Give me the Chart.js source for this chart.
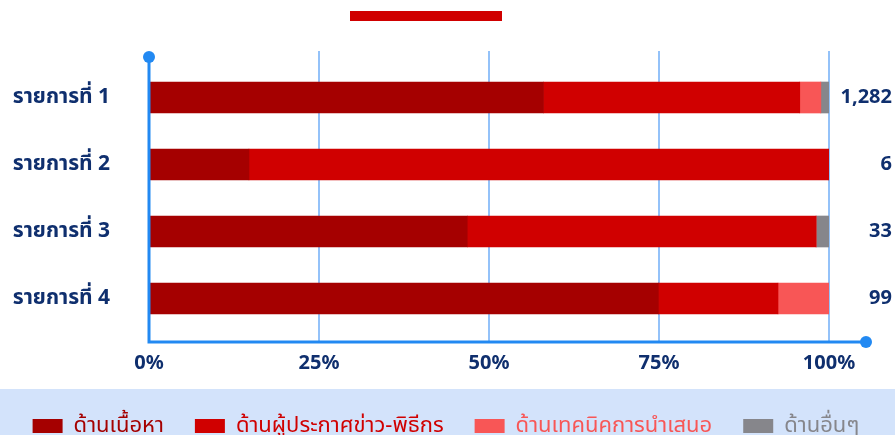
<!DOCTYPE html>
<html>
<head>
<meta charset="utf-8">
<script src="https://cdn.jsdelivr.net/npm/chart.js@4.4.1/dist/chart.umd.min.js"></script>
<style>
  html, body { margin: 0; padding: 0; background: #ffffff; overflow: hidden; }
  #wrap { position: relative; width: 895px; height: 455px; }
  #legendBg { position: absolute; left: 0; top: 389px; width: 895px; height: 66px; background: #d3e3fb; z-index: 0; }
  #titleBar { position: absolute; left: 350px; top: 11px; width: 152px; height: 10px; background: #d00000; z-index: 0; }
  #chartBox { position: absolute; left: 0; top: 0; width: 895px; height: 455px; z-index: 1; }
</style>
</head>
<body>
<div id="wrap">
  <div id="legendBg"></div>
  <div id="titleBar"></div>
  <div id="chartBox"><canvas id="c"></canvas></div>
</div>
<script>
const categories = ['รายการที่ 1', 'รายการที่ 2', 'รายการที่ 3', 'รายการที่ 4'];
const totals = ['1,282', '6', '33', '99'];
const seriesNames = ['ด้านเนื้อหา', 'ด้านผู้ประกาศข่าว-พิธีกร', 'ด้านเทคนิคการนำเสนอ', 'ด้านอื่นๆ'];
const contentPct = [58.0, 14.7, 46.8, 74.9];
const anchorPct = [37.7, 85.3, 51.3, 17.6];
const techniquePct = [3.1, 0, 0, 7.5];
const otherPct = [1.2, 0, 1.9, 0];
const xTicks = [0, 25, 50, 75, 100];

const seriesColors = ['#a50000', '#d00000', '#f85656', '#86868b'];
const navy = '#0f2f6e';
const axisBlue = '#2289f2';
const gridBlue = '#94c2f9';
const FONT = "'Noto Sans', 'Noto Sans Thai', sans-serif";

const seriesValues = [contentPct, anchorPct, techniquePct, otherPct];

const decorPlugin = {
  id: 'decor',
  beforeDatasetsDraw(chart) {
    const ctx = chart.ctx;
    const xs = chart.scales.x;
    const area = chart.chartArea;
    ctx.save();
    ctx.strokeStyle = gridBlue;
    ctx.lineWidth = 2;
    xTicks.slice(1).forEach(v => {
      const px = Math.round(xs.getPixelForValue(v));
      ctx.beginPath();
      ctx.moveTo(px, area.top - 13);
      ctx.lineTo(px, area.bottom + 10);
      ctx.stroke();
    });
    ctx.restore();
  },
  afterDatasetsDraw(chart) {
    const ctx = chart.ctx;
    const xs = chart.scales.x;
    const area = chart.chartArea;
    const x0 = xs.getPixelForValue(0);
    const yTop = area.top - 7;
    const yBot = area.bottom + 10;
    const xEnd = xs.getPixelForValue(100) + 37;
    ctx.save();
    ctx.strokeStyle = axisBlue;
    ctx.fillStyle = axisBlue;
    ctx.lineWidth = 3;
    ctx.beginPath();
    ctx.moveTo(x0, yTop);
    ctx.lineTo(x0, yBot);
    ctx.lineTo(xEnd, yBot);
    ctx.stroke();
    ctx.beginPath();
    ctx.arc(x0, yTop, 6, 0, Math.PI * 2);
    ctx.fill();
    ctx.beginPath();
    ctx.arc(xEnd, yBot, 6, 0, Math.PI * 2);
    ctx.fill();
    ctx.restore();
  }
};

new Chart(document.getElementById('c'), {
  type: 'bar',
  data: {
    labels: categories,
    datasets: seriesNames.map((name, i) => ({
      label: name,
      data: seriesValues[i],
      backgroundColor: seriesColors[i],
      borderWidth: 0,
      barThickness: 31,
      yAxisID: 'y'
    }))
  },
  options: {
    indexAxis: 'y',
    responsive: true,
    maintainAspectRatio: false,
    animation: false,
    layout: { padding: { top: 64, left: 0, right: 3, bottom: 8 } },
    scales: {
      x: {
        stacked: true,
        min: 0,
        max: 100,
        grid: { display: false, drawTicks: false },
        border: { display: false },
        ticks: {
          stepSize: 25,
          padding: 19,
          color: navy,
          font: { family: FONT, size: 20, weight: 'bold' },
          callback: v => v + '%'
        },
        afterFit(scale) { scale.height = 52; }
      },
      y: {
        stacked: true,
        position: 'left',
        grid: { display: false, drawTicks: false },
        border: { display: false },
        ticks: {
          padding: 39,
          color: navy,
          font: { family: FONT, size: 21, weight: 'bold' }
        },
        afterFit(scale) { scale.width = 149; }
      },
      y2: {
        type: 'category',
        labels: totals,
        position: 'right',
        offset: true,
        grid: { display: false, drawTicks: false },
        border: { display: false },
        ticks: {
          crossAlign: 'far',
          color: navy,
          font: { family: FONT, size: 20, weight: 'bold' }
        },
        afterFit(scale) { scale.width = 63; }
      }
    },
    plugins: {
      tooltip: { enabled: false },
      legend: {
        position: 'bottom',
        align: 'center',
        labels: {
          boxWidth: 30,
          boxHeight: 14,
          padding: 31,
          font: { family: FONT, size: 22 },
          generateLabels(chart) {
            const items = Chart.defaults.plugins.legend.labels.generateLabels(chart);
            items.forEach((it, i) => { it.fontColor = seriesColors[i]; it.lineWidth = 0; it.strokeStyle = seriesColors[i]; });
            return items;
          }
        }
      }
    }
  },
  plugins: [decorPlugin]
});
</script>
</body>
</html>
